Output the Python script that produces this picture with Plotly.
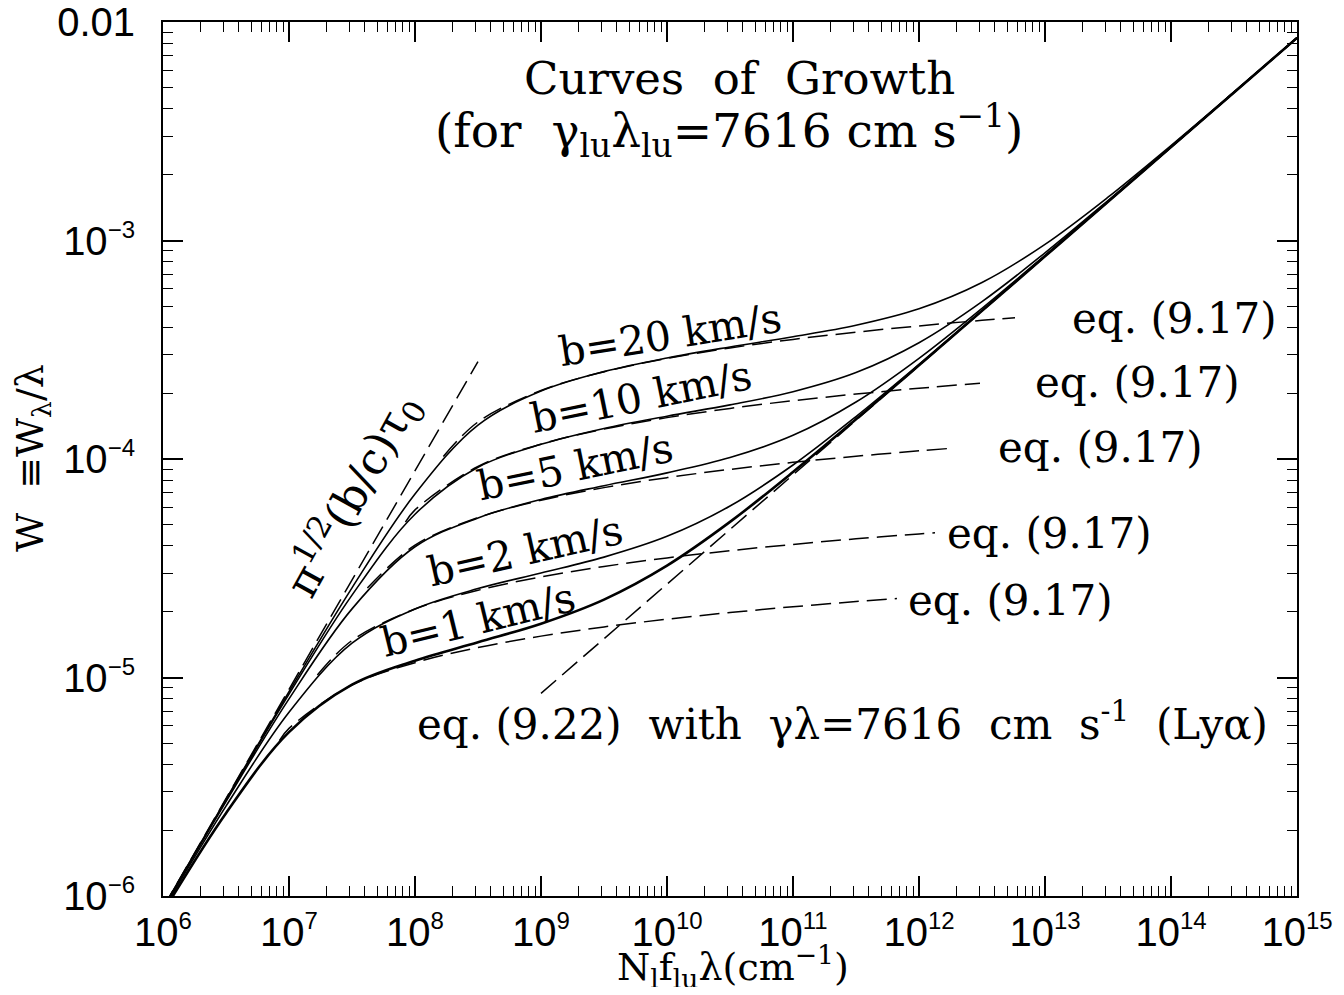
import plotly.graph_objects as go

# ---------------- data ----------------
# common abscissa for the full curves of growth: N_l f_lu lambda (cm^-1)
nfl = [1e6, 3.162e6, 1e7, 3.162e7, 1e8, 3.162e8, 1e9, 3.162e9, 1e10, 3.162e10,
       1e11, 3.162e11, 1e12, 3.162e12, 1e13, 3.162e13, 1e14, 3.162e14, 1e15]

w_b1 = [8.42e-7, 2.394e-6, 5.623e-6, 9.267e-6, 1.194e-5, 1.451e-5, 1.763e-5, 2.273e-5,
        3.252e-5, 5.154e-5, 8.718e-5, 1.520e-4, 2.685e-4, 4.763e-4, 8.464e-4, 1.504e-3,
        2.675e-3, 4.757e-3, 8.46e-3]
w_b2 = [8.63e-7, 2.579e-6, 6.927e-6, 1.435e-5, 2.060e-5, 2.552e-5, 3.008e-5, 3.556e-5,
        4.426e-5, 6.092e-5, 9.386e-5, 1.565e-4, 2.713e-4, 4.781e-4, 8.475e-4, 1.505e-3,
        2.676e-3, 4.757e-3, 8.46e-3]
w_b5 = [8.75e-7, 2.706e-6, 7.983e-6, 2.061e-5, 3.965e-5, 5.374e-5, 6.527e-5, 7.548e-5,
        8.641e-5, 1.015e-4, 1.283e-4, 1.823e-4, 2.889e-4, 4.893e-4, 8.545e-4, 1.509e-3,
        2.678e-3, 4.759e-3, 8.461e-3]
w_b10 = [8.79e-7, 2.748e-6, 8.391e-6, 2.382e-5, 5.589e-5, 9.168e-5, 1.167e-4, 1.379e-4,
         1.570e-4, 1.769e-4, 2.033e-4, 2.488e-4, 3.406e-4, 5.252e-4, 8.777e-4, 1.524e-3,
         2.687e-3, 4.765e-3, 8.464e-3]
w_b20 = [8.81e-7, 2.770e-6, 8.607e-6, 2.573e-5, 6.910e-5, 1.430e-4, 2.045e-4, 2.511e-4,
         2.899e-4, 3.257e-4, 3.626e-4, 4.092e-4, 4.867e-4, 6.420e-4, 9.602e-4, 1.578e-3,
         2.721e-3, 4.785e-3, 8.477e-3]

# eq. (9.17) flat-part approximations (dashed)
eq917_b1_x = [8.39e6, 1e7, 3.162e7, 1e8, 3.162e8, 1e9, 3.162e9, 1e10, 3.162e10, 1e11, 3.162e11, 6.683e11]
eq917_b1_y = [5.137e-6, 5.848e-6, 9.243e-6, 1.1692e-5, 1.3709e-5, 1.5466e-5, 1.7042e-5, 1.8485e-5,
              1.9823e-5, 2.1076e-5, 2.2258e-5, 2.2995e-5]
eq917_b2_x = [1.679e7, 3.162e7, 1e8, 3.162e8, 1e9, 3.162e9, 1e10, 3.162e10, 1e11, 3.162e11, 1e12, 1.340e12]
eq917_b2_y = [1.0275e-5, 1.4776e-5, 2.0576e-5, 2.5067e-5, 2.8868e-5, 3.2223e-5, 3.5262e-5, 3.8057e-5,
              4.0662e-5, 4.3109e-5, 4.5424e-5, 4.5993e-5]
eq917_b5_x = [4.188e7, 1e8, 3.162e8, 1e9, 3.162e9, 1e10, 3.162e10, 1e11, 3.162e11, 1e12, 1.698e12]
eq917_b5_y = [2.569e-5, 4.0326e-5, 5.392e-5, 6.4722e-5, 7.3961e-5, 8.2166e-5, 8.9625e-5, 9.6507e-5,
              1.0293e-4, 1.0898e-4, 1.1165e-4]
eq917_b10_x = [8.395e7, 1e8, 3.162e8, 1e9, 3.162e9, 1e10, 3.162e10, 1e11, 3.162e11, 1e12, 3.048e12]
eq917_b10_y = [5.137e-5, 5.848e-5, 9.243e-5, 1.1692e-4, 1.3709e-4, 1.5466e-4, 1.7042e-4, 1.8485e-4,
               1.9823e-4, 2.1076e-4, 2.2222e-4]
eq917_b20_x = [1.679e8, 3.162e8, 1e9, 3.162e9, 1e10, 3.162e10, 1e11, 3.162e11, 1e12, 3.162e12, 5.781e12]
eq917_b20_y = [1.0275e-4, 1.4776e-4, 2.0576e-4, 2.5067e-4, 2.8868e-4, 3.2223e-4, 3.5262e-4, 3.8057e-4,
               4.0662e-4, 4.3109e-4, 4.434e-4]

# linear (optically thin) asymptote and eq. (9.22) damping asymptote
lin_x = [1e6, 3.16e8]
lin_y = [8.83e-7, 2.79e-4]
damp_x = [1e9, 1e15]
damp_y = [8.46e-6, 8.46e-3]

SUP = "<sup><span style='font-size:24px'>{}</span></sup>"
x_tick_vals = [1e6, 1e7, 1e8, 1e9, 1e10, 1e11, 1e12, 1e13, 1e14, 1e15]
x_tick_text = ["10" + SUP.format(e) for e in ["6", "7", "8", "9", "10", "11", "12", "13", "14", "15"]]
y_tick_vals = [1e-6, 1e-5, 1e-4, 1e-3, 1e-2]
y_tick_text = ["10" + SUP.format(e) for e in ["−6", "−5", "−4", "−3"]] + ["0.01"]

b_labels = ["b=20 km/s", "b=10 km/s", "b=5 km/s", "b=2 km/s", "b=1 km/s"]

# ---------------- figure ----------------
fig = go.Figure()
BLACK = "black"
DASH = "20px,8px"

solid = [(w_b1, 2.6), (w_b2, 1.6), (w_b5, 1.6), (w_b10, 1.6), (w_b20, 1.6)]
for ys, lw in solid:
    fig.add_trace(go.Scatter(x=nfl, y=ys, mode="lines",
                             line=dict(color=BLACK, width=lw, shape="spline", smoothing=1.0),
                             hoverinfo="skip", showlegend=False))

for xs, ys in [(eq917_b1_x, eq917_b1_y), (eq917_b2_x, eq917_b2_y), (eq917_b5_x, eq917_b5_y),
               (eq917_b10_x, eq917_b10_y), (eq917_b20_x, eq917_b20_y)]:
    fig.add_trace(go.Scatter(x=xs, y=ys, mode="lines",
                             line=dict(color=BLACK, width=1.5, dash=DASH, shape="spline", smoothing=1.0),
                             hoverinfo="skip", showlegend=False))

for xs, ys in [(lin_x, lin_y), (damp_x, damp_y)]:
    fig.add_trace(go.Scatter(x=xs, y=ys, mode="lines",
                             line=dict(color=BLACK, width=1.5, dash=DASH),
                             hoverinfo="skip", showlegend=False))

# target plot-area edges in screen pixels; the page body adds an 8 px offset
OFF = 8
L, R, T, B = 163, 1297, 22, 896
W_FIG, H_FIG = 1344 - 2 * OFF, 995 - 2 * OFF


def px(xp, yp):
    return (xp - L) / (R - L), (B - yp) / (B - T)


SERIF = "DejaVu Serif"
SANS = "Liberation Sans"
ann = []


def add_text(text, xpix, ypix, size, angle=0, xanchor="center", family=SERIF):
    xx, yy = px(xpix, ypix)
    ann.append(dict(text=text, x=xx, y=yy, xref="paper", yref="paper", showarrow=False,
                    xanchor=xanchor, yanchor="middle", textangle=angle,
                    font=dict(family=family, size=size, color=BLACK)))


add_text("Curves  of  Growth", 739, 78, 45)
add_text("(for  γ<sub>lu</sub>λ<sub>lu</sub>=7616 cm s<sup>−1</sup>)", 729, 130, 47)

b_pos = [(670, 335, -9), (641, 397, -11.5), (575, 467, -11.6), (525, 551, -12.7), (478, 620, -13.7)]
for lab, (xx, yy, ang) in zip(b_labels, b_pos):
    add_text(lab, xx, yy, 41, ang)

add_text("π<sup>1/2</sup>(b/c)τ<sub>0</sub>", 352, 495, 44, -61)

for xx, yy in [(1070, 318), (1033, 382), (996, 447), (945, 533), (906, 600)]:
    add_text("eq. (9.17)", xx, yy, 42, 0, xanchor="left")

add_text("eq. (9.22)  with  γλ=7616  cm  s<sup>-1</sup>  (Lyα)", 842, 721, 42)

add_text("N<sub>l</sub>f<sub>lu</sub>λ(cm<sup>−1</sup>)", 733, 966, 38)
add_text("W  ≡W<sub>λ</sub>/λ", 33, 458, 38, -90)

x_minor = [m * 10 ** e for e in range(6, 15) for m in range(2, 10)]
y_minor = [m * 10.0 ** e for e in range(-6, -2) for m in range(2, 10)]

axis_common = dict(type="log", showgrid=False, zeroline=False, showline=True, linecolor=BLACK,
                   linewidth=2, mirror="ticks", ticks="inside", ticklen=20, tickwidth=1.6,
                   tickcolor=BLACK, tickmode="array", automargin=False,
                   ticklabeloverflow="allow",
                   tickfont=dict(family=SANS, size=40, color=BLACK))

fig.update_layout(
    width=W_FIG, height=H_FIG, autosize=False,
    margin=dict(l=L - OFF, r=(1344 - OFF) - R, t=T - OFF, b=(995 - OFF) - B, pad=0),
    paper_bgcolor="white", plot_bgcolor="white",
    showlegend=False,
    xaxis=dict(range=[6, 15], tickvals=x_tick_vals, ticktext=x_tick_text,
               minor=dict(tickmode="array", tickvals=x_minor, ticks="inside", ticklen=10,
                          tickwidth=1.4, tickcolor=BLACK, showgrid=False),
               ticklabelstandoff=0, **axis_common),
    yaxis=dict(range=[-6, -2], tickvals=y_tick_vals, ticktext=y_tick_text,
               minor=dict(tickmode="array", tickvals=y_minor, ticks="inside", ticklen=10,
                          tickwidth=1.4, tickcolor=BLACK, showgrid=False),
               ticklabelstandoff=18, **axis_common),
    annotations=ann,
)

fig.write_html("out.html")
